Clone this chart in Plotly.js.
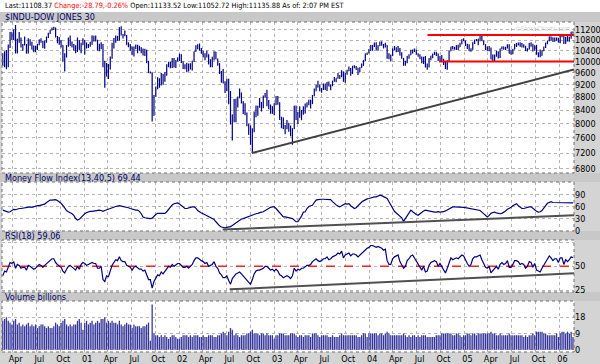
<!DOCTYPE html>
<html><head><meta charset="utf-8">
<script src="https://cdn.plot.ly/plotly-3.0.1.min.js"></script>
<style>html,body{margin:0;padding:0;background:#fff}#chart{width:600px;height:364px}</style>
</head><body><div id="chart"></div>
<script>
// weekly bars, first week (Wednesday) of the series
const weekStart = '2000-02-23';

const openP = [
10220,9860,10370,9930,10600,11110,10920,11110,10310,10840,10730,10580,10610,10630,10300,10790,10610,10450,10400,10450,10640,10810,10730,10510,10770,10910,11050,11190,11240,11260,10930,10850,10650,10600,10190,10230,10590,10820,10600,10630,10470,10370,10710,10430,10640,
10790,10660,10530,10590,10660,10860,10780,10800,10440,10470,10640,9820,9500,9880,9790,10130,10580,10810,10950,10820,11300,11010,10990,10980,10620,10600,10500,10250,10540,10580,10420,10510,10420,10240,10420,9950,9610,9610,8240,8850,9120,9340,9200,9550,9320,9610,9870,9960,9850,10050,9810,10040,
10140,10260,9990,9770,9840,9910,9740,9900,10020,10370,10570,10610,10430,10400,10270,10190,10260,9910,10010,10120,10350,10100,9930,9590,9470,9250,9240,9380,8680,8020,8260,8310,8750,8780,8870,8660,8430,8310,7990,7700,7530,7850,8320,8440,8520,8540,8580,8800,8900,8650,8430,8510,
8300,8600,8790,8590,8130,8050,7860,7910,8020,7890,7740,7860,8520,8150,8280,8200,8340,8310,8580,8600,8710,8600,8850,9060,9120,9200,9010,9070,9120,9190,9280,9150,9190,9320,9350,9420,9500,9470,9640,9310,9570,9670,9720,9580,9800,9810,9770,9630,9780,9860,10040,10280,
10310,10410,10460,10600,10570,10490,10590,10630,10620,10580,10600,10240,10190,10210,10470,10440,10450,10470,10230,10120,10010,9970,10190,10240,10410,10420,10370,10280,10210,10140,9960,10140,9820,9830,10110,10200,10260,10310,10280,10050,10190,10060,9930,9760,10030,10390,10540,10460,10520,10590,10540,10650,10830,
10780,10600,10560,10390,10430,10720,10800,10790,10840,10940,10770,10630,10440,10400,10460,10090,10160,10190,10350,10140,10470,10540,10460,10510,10620,10300,10300,10450,10640,10650,10640,10560,10600,10560,10400,10450,10680,10640,10420,10570,10290,10290,10220,10400,10530,10690,10770,10930,10880,10780,10880,10880,
10720,10960,10960,10670,10910,10790,10920,11120];

const highP = [
10300,10370,10420,10630,11120,11110,11230,11400,10850,11120,10900,10650,10940,10650,10870,10830,10740,10590,10580,10660,10820,10870,10780,10780,10940,11090,11200,11300,11330,11300,10960,10920,10800,10600,10300,10600,10900,10980,10750,10650,10600,10900,10800,10700,10870,
10800,10710,10650,10740,10990,10970,10980,10800,10660,10720,10650,10030,9950,9910,10180,10700,10880,10980,10960,11310,11350,11040,11180,11000,10720,10650,10560,10560,10630,10620,10580,10530,10480,10470,10430,10030,9650,9610,8870,9140,9450,9420,9600,9560,9620,9900,9990,9990,10130,10130,10060,10150,
10280,10270,10000,9900,9960,9930,9940,10030,10370,10600,10640,10670,10500,10400,10300,10400,10260,10080,10170,10380,10350,10100,9940,9670,9740,9320,9390,9400,9000,8270,8740,8750,8820,9080,8950,8670,8610,8330,7990,7950,7870,8360,8540,8530,8770,8650,8850,8930,9040,8710,8570,8520,
8610,8840,8840,8640,8200,8180,7960,8110,8020,7950,7870,8530,8530,8350,8520,8400,8520,8600,8640,8720,8710,8870,9080,9200,9330,9200,9090,9240,9240,9290,9310,9220,9330,9460,9420,9600,9530,9690,9650,9600,9710,9820,9770,9850,9870,9840,9780,9800,9930,10050,10290,10330,
10460,10610,10610,10710,10720,10600,10750,10760,10650,10700,10600,10300,10260,10480,10570,10530,10570,10500,10340,10130,10030,10200,10270,10430,10440,10480,10440,10300,10270,10180,10170,10200,9930,10120,10210,10290,10360,10360,10290,10200,10240,10100,10010,10030,10400,10550,10570,10540,10600,10620,10700,10830,10870,
10780,10660,10640,10490,10720,10810,10840,10850,10950,10980,10780,10640,10560,10570,10520,10260,10260,10400,10370,10480,10560,10550,10550,10640,10640,10430,10460,10650,10690,10710,10720,10690,10640,10570,10490,10690,10720,10660,10600,10620,10340,10440,10410,10560,10700,10780,10940,10940,10910,10900,10900,10880,
10980,11050,10970,10930,10960,10940,11130,11140];

const lowP = [
9860,9800,9730,9800,10500,10800,10800,10300,10300,10700,10520,10400,10600,10300,10300,10580,10440,10340,10340,10420,10600,10700,10500,10470,10700,10880,11040,11180,11200,10900,10680,10620,10520,10000,9650,10150,10550,10590,10520,10400,10300,10350,10430,10300,10600,
10260,10480,10500,10550,10620,10750,10750,10400,10380,10450,9800,9100,9480,9390,9720,10100,10480,10700,10780,10780,10980,10860,10950,10620,10530,10400,10250,10180,10450,10300,10400,10300,10220,10200,9950,9600,9580,8060,8230,8810,9050,9100,9180,9200,9300,9500,9800,9760,9770,9790,9770,10000,
10020,9950,9740,9730,9620,9650,9720,9680,9980,10360,10450,10400,10280,10150,10050,10150,9900,9800,9800,10040,10080,9850,9560,9270,9250,8930,8990,8580,7980,7530,8040,8040,8480,8780,8600,8280,8250,7930,7690,7420,7200,7760,8190,8230,8470,8360,8460,8780,8520,8430,8290,8300,
8250,8550,8560,8110,7870,7850,7700,7840,7770,7650,7420,7850,8110,7990,8170,8100,8260,8300,8480,8550,8450,8590,8830,8990,9110,8990,8940,9030,9030,9000,9150,9020,9150,9300,9280,9400,9390,9450,9310,9270,9540,9670,9500,9560,9760,9700,9530,9620,9780,9850,10010,10240,
10300,10400,10400,10540,10410,10400,10570,10580,10480,10520,10100,10080,10000,10200,10420,10340,10350,10220,10100,9850,9850,9940,10100,10240,10290,10350,10250,10170,10080,9940,9910,9790,9710,9790,10050,10120,10240,10200,10020,9990,10020,9880,9740,9710,9990,10380,10450,10440,10420,10420,10540,10640,10760,
10570,10460,10390,10360,10430,10650,10760,10600,10760,10770,10600,10420,10400,10380,10080,9990,10010,10180,10110,10130,10440,10430,10420,10480,10290,10250,10270,10450,10540,10590,10550,10520,10510,10390,10370,10440,10550,10370,10400,10250,10160,10160,10210,10390,10500,10640,10760,10780,10730,10740,10780,10710,
10680,10910,10650,10660,10750,10740,10850,11050];

const closeP = [
9860,10370,9930,10600,11110,10920,11110,10310,10840,10730,10580,10610,10630,10300,10790,10610,10450,10400,10450,10640,10810,10730,10510,10770,10910,11050,11190,11240,11260,10930,10850,10650,10600,10190,10230,10590,10820,10600,10630,10470,10370,10710,10430,10640,10790,
10660,10530,10590,10660,10860,10780,10800,10440,10470,10640,9820,9500,9880,9790,10130,10580,10810,10950,10820,11300,11010,10990,10980,10620,10600,10500,10250,10540,10580,10420,10510,10420,10240,10420,9950,9610,9610,8240,8850,9120,9340,9200,9550,9320,9610,9870,9960,9850,10050,9810,10040,10140,
10260,9990,9770,9840,9910,9740,9900,10020,10370,10570,10610,10430,10400,10270,10190,10260,9910,10010,10120,10350,10100,9930,9590,9470,9250,9240,9380,8680,8020,8260,8310,8750,8780,8870,8660,8430,8310,7990,7700,7530,7850,8320,8440,8520,8540,8580,8800,8900,8650,8430,8510,8300,
8600,8790,8590,8130,8050,7860,7910,8020,7890,7740,7860,8520,8150,8280,8200,8340,8310,8580,8600,8710,8600,8850,9060,9120,9200,9010,9070,9120,9190,9280,9150,9190,9320,9350,9420,9500,9470,9640,9310,9570,9670,9720,9580,9800,9810,9770,9630,9780,9860,10040,10280,10310,
10410,10460,10600,10570,10490,10590,10630,10620,10580,10600,10240,10190,10210,10470,10440,10450,10470,10230,10120,10010,9970,10190,10240,10410,10420,10370,10280,10210,10140,9960,10140,9820,9830,10110,10200,10260,10310,10280,10050,10190,10060,9930,9760,10030,10390,10540,10460,10520,10590,10540,10650,10830,10780,
10600,10560,10390,10430,10720,10800,10790,10840,10940,10770,10630,10440,10400,10460,10090,10160,10190,10350,10140,10470,10540,10460,10510,10620,10300,10300,10450,10640,10650,10640,10560,10600,10560,10400,10450,10680,10640,10420,10570,10290,10290,10220,10400,10530,10690,10770,10930,10880,10780,10880,10880,10720,
10960,10960,10670,10910,10790,10920,11120,11110];

const mfi = [
51,49,47,46,47,50,53,52,54,55, 55,56,57,58,58,59,58,60,61,62, 62,63,64,66,70,74,76,76,77,77, 75,72,68,63,55,50,47,45,42,38, 30,26,28,33,38,42,45,47,48,48,
49,50,51,51,50,48,50,52,53,55, 56,58,60,61,62,61,60,59,59,57, 55,53,52,51,51,48,42,34,32,31, 30,30,31,36,40,43,43,42,42,43,
47,53,59,64,67,69,69,66,62,58, 55,55,57,58,59,59,56,50,46,44, 42,40,38,36,34,32,28,22,16,12, 9,7,7,8,9,10,13,16,20,24,
27,29,30,32,34,36,38,38,40,42, 43,45,46,47,50,53,56,58,59,59, 55,50,45,38,34,34,33,32,31,30, 26,22,22,28,36,46,47,55,60,62,
63,70,76,77,78,78,78,78,78,78, 77,72,67,64,61,59,62,65,67,66, 67,62,58,55,57,62,66,71,74,77, 79,80,82,83,84,84,86,88,87,85,
83,80,72,64,55,48,44,40,38,32, 23,30,40,47,51,47,43,40,38,42, 46,49,51,50,48,47,46,46,46,47, 46,46,47,49,52,55,57,59,59,59,
59,59,59,58,57,56,55,54,53,52, 51,51,50,46,42,38,34,38,43,45, 46,44,43,42,43,45,49,53,55,58, 62,65,67,62,58,55,55,57,58,59,
59,55,51,48,46,47,50,55,62,68, 71,72,70,70,69,69,69,69,69,69, 70,70,70,69];

const rsi = [
40,45,44,50,54,53,55,48,52,51, 48,49,49,46,51,50,48,47,48,50, 52,51,49,51,53,55,57,58,58,54, 52,50,49,45,43,47,50,51,49,47, 46,50,47,52,54,53,51,52,53,54,
53,53,48,48,50,36,34,40,39,45, 51,54,57,56,60,56,55,55,51,50, 49,46,49,50,48,47,47,45,46,40, 36,36,27,34,38,41,40,44,42,45,
48,50,49,52,50,52,53,53,51,49, 49,50,48,50,52,56,59,59,57,56, 55,53,54,50,51,52,55,50,48,43, 41,38,38,40,35,31,37,40,42,43,
44,42,40,38,35,33,31,36,42,45, 46,46,47,48,50,50,48,46,47,45, 47,45,41,40,38,39,40,39,37,40, 48,45,47,46,48,48,50,51,51,52,
55,57,58,56,55,56,58,58,60,57, 58,60,61,62,64,63,66,59,62,63, 64,61,63,63,62,60,62,63,66,68, 69,70,72,72,71,70,71,70,69,67,
68,56,52,52,58,60,61,62,55,52, 48,50,56,58,61,62,59,55,53,49, 46,50,44,45,51,54,55,56,55,50, 53,50,47,43,48,55,59,57,58,59,
58,60,62,61,56,53,50,52,58,60, 60,61,62,57,53,49,48,50,43,45, 47,50,47,52,54,52,53,56,49,49, 52,56,56,55,52,53,52,48,50,55,
54,49,53,46,45,44,48,51,55,57, 61,59,56,58,58,54,59,59,52,57, 55,57,60,59];

const volume = [
16,17,18,16,15,14,16,17,14,15, 13,14,13,14,15,13,14,13,14,12, 13,14,14,13,12,13,12,12,13,15, 14,13,15,16,17,14,13,14,13,14, 14,16,17,15,11,15,16,14,15,16,
14,15,16,15,17,17,18,15,16,15, 16,15,15,14,16,14,13,14,15,14, 14,12,14,13,13,13,12,13,13,14, 15,5,25,9,8,8,7,8,7,8,
7,6,7,8,8,7,6,6,7,8, 8,8,7,8,7,8,8,8,7,7, 8,7,7,8,8,8,7,7,8,8, 9,10,9,8,10,12,11,8,9,8,
7,8,8,8,9,9,10,11,9,9, 9,8,9,9,8,9,8,8,8,6, 8,8,9,9,9,8,8,8,9,9, 9,8,7,8,8,7,8,8,8,7,
9,9,9,8,7,8,8,8,8,7, 7,8,7,7,7,8,9,8,8,8, 8,8,8,8,8,7,7,8,9,9, 7,9,9,9,9,9,8,9,9,8,
9,10,9,8,8,8,8,8,8,8, 9,8,7,8,7,8,8,7,8,7, 8,8,8,7,7,7,7,7,8,8, 8,9,9,9,9,9,9,8,8,9,
9,8,7,8,8,9,9,8,9,9, 8,9,9,9,9,9,9,9,10,9, 9,8,8,9,8,8,8,8,9,8, 8,8,8,8,8,8,7,8,7,8,
8,9,8,10,10,10,10,9,9,8, 8,8,8,8,9,7,9,10,10,9, 10,9,10,7];

const tickDates = ['2000-04-01','2000-07-01','2000-10-01','2001-01-01','2001-04-01','2001-07-01','2001-10-01','2002-01-01','2002-04-01','2002-07-01','2002-10-01','2003-01-01','2003-04-01','2003-07-01','2003-10-01','2004-01-01','2004-04-01','2004-07-01','2004-10-01','2005-01-01','2005-04-01','2005-07-01','2005-10-01','2006-01-01'];
const tickText = ['Apr','Jul','Oct','01','Apr','Jul','Oct','02','Apr','Jul','Oct','03','Apr','Jul','Oct','04','Apr','Jul','Oct','05','Apr','Jul','Oct','06'];
const priceTicks = [6800,7200,7600,8000,8400,8800,9200,9600,10000,10400,10800,11200];
const mfiTicks = [0,30,60,90];
const rsiTicks = [25,50,75];
const rsiTickText = ['25','50',''];
const volTicks = [0,9,18];

// drawn lines
const priceTrendX = ['2002-10-07','2006-02-26'];
const priceTrendY = [7200,9716];
const resistX = ['2004-08-12','2006-02-26'];
const resistY = [11000,11000];
const supportX = ['2004-09-26','2006-02-26'];
const supportY = [10000,10000];
const mfiTrendX = ['2002-06-17','2006-02-26'];
const mfiTrendY = [2.5,38];
const rsiTrendX = ['2002-07-14','2006-02-26'];
const rsiTrendY = [25.7,42.6];
const rsiMidX = ['2000-02-20','2006-02-26'];
const rsiMidY = [50,50];

const dates = closeP.map((_, i) => {
  const d = new Date(weekStart + 'T00:00:00Z');
  d.setUTCDate(d.getUTCDate() + 7 * i);
  return d.toISOString().slice(0, 10);
});

const navy = '#000080';
const traces = [
  {type:'ohlc', x:dates, open:openP, high:highP, low:lowP, close:closeP, xaxis:'x', yaxis:'y',
   increasing:{line:{color:navy, width:1.2}}, decreasing:{line:{color:navy, width:1.2}}, tickwidth:0.3, hoverinfo:'skip'},
  {type:'scatter', mode:'lines', x:priceTrendX, y:priceTrendY, xaxis:'x', yaxis:'y', line:{color:'#404040', width:2}},
  {type:'scatter', mode:'lines', x:resistX, y:resistY, xaxis:'x', yaxis:'y', line:{color:'#ff0000', width:2}},
  {type:'scatter', mode:'lines', x:supportX, y:supportY, xaxis:'x', yaxis:'y', line:{color:'#ff0000', width:2}},
  {type:'scatter', mode:'lines', x:dates, y:mfi, xaxis:'x', yaxis:'y2', line:{color:navy, width:1.2}},
  {type:'scatter', mode:'lines', x:mfiTrendX, y:mfiTrendY, xaxis:'x', yaxis:'y2', line:{color:'#505050', width:2}},
  {type:'scatter', mode:'lines', x:rsiMidX, y:rsiMidY, xaxis:'x', yaxis:'y3', line:{color:'#ff2020', width:1.5, dash:'dash'}},
  {type:'scatter', mode:'lines', x:dates, y:rsi, xaxis:'x', yaxis:'y3', line:{color:navy, width:1.2}},
  {type:'scatter', mode:'lines', x:rsiTrendX, y:rsiTrendY, xaxis:'x', yaxis:'y3', line:{color:'#505050', width:2}},
  {type:'bar', x:dates, y:volume, xaxis:'x', yaxis:'y4', marker:{color:'#34349a', line:{width:0}}}
];

const FONT = '"Liberation Sans Narrow", "Arial Narrow", "DejaVu Sans Condensed", "Liberation Sans", Arial, sans-serif';
const gridc = '#b4b4b4';
const yBase = {side:'right', showgrid:true, gridcolor:gridc, griddash:'dot', gridwidth:1, zeroline:false, showline:false, ticks:'', tickfont:{size:9, color:'#000'}, fixedrange:true, anchor:'x'};

// px helpers for paper coords (plot area from y=22 to y=352, x from 2 to 574)
const py = p => (352 - p) / 330;
const px = p => (p - 2) / 572;

const shapes = [
  {type:'rect', xref:'paper', yref:'paper', x0:px(0), x1:px(600), y0:py(12), y1:py(-2), fillcolor:'#ffffff', line:{width:0}, layer:'below'},
  {type:'rect', xref:'paper', yref:'paper', x0:px(0), x1:px(600), y0:py(22), y1:py(12), fillcolor:'#c8c8c8', line:{width:0}, layer:'below'},
  {type:'rect', xref:'paper', yref:'paper', x0:px(0), x1:px(600), y0:py(182), y1:py(173), fillcolor:'#c8c8c8', line:{width:0}, layer:'below'},
  {type:'rect', xref:'paper', yref:'paper', x0:px(0), x1:px(600), y0:py(240), y1:py(231), fillcolor:'#c8c8c8', line:{width:0}, layer:'below'},
  {type:'rect', xref:'paper', yref:'paper', x0:px(0), x1:px(600), y0:py(301), y1:py(292), fillcolor:'#c8c8c8', line:{width:0}, layer:'below'},
];
[[22,173],[182,231],[240,292],[301,352]].forEach(([a,b]) => shapes.push(
  {type:'rect', xref:'paper', yref:'paper', x0:0, x1:1, y0:py(b), y1:py(a), line:{color:'#707070', width:1, dash:'dot'}, fillcolor:'rgba(0,0,0,0)', layer:'above'}));

const ann = (text, ypx, color, size) => ({xref:'paper', yref:'paper', x:px(3), y:py(ypx), xanchor:'left', yanchor:'middle', text:text, showarrow:false, font:{size:size || 9, color:color || '#000066', family:FONT}});

const layout = {
  width:600, height:364,
  margin:{l:2, r:26, t:22, b:12, pad:0},
  paper_bgcolor:'#d4d4d4', plot_bgcolor:'#ffffff',
  showlegend:false, bargap:0.3,
  font:{family:FONT, size:9, color:'#000'},
  xaxis:{type:'date', range:['2000-02-20','2006-02-26'], domain:[0,1], anchor:'y4',
    tickmode:'array', tickvals:tickDates, ticktext:tickText, showgrid:true, gridcolor:gridc, griddash:'dot',
    ticks:'', showline:false, zeroline:false, rangeslider:{visible:false}, tickfont:{size:9, color:'#000'},
    ticklabelshift:3, fixedrange:true},
  yaxis:Object.assign({}, yBase, {domain:[py(173), py(22)], type:'log', range:[Math.log10(6702), Math.log10(11526)], tickmode:'array', tickvals:priceTicks, ticktext:priceTicks.map(String)}),
  yaxis2:Object.assign({}, yBase, {domain:[py(231), py(182)], range:[-1, 121], tickmode:'array', tickvals:mfiTicks}),
  yaxis3:Object.assign({}, yBase, {domain:[py(292), py(240)], range:[22.9, 77.8], tickmode:'array', tickvals:rsiTicks, ticktext:rsiTickText}),
  yaxis4:Object.assign({}, yBase, {domain:[py(352), py(301)], range:[-1.3, 27.0], tickmode:'array', tickvals:volTicks}),
  shapes:shapes,
  annotations:[
    ann('Last:11108.37 <span style="color:#ff0000">Change:-28.79,-0.26%</span> Open:11133.52 Low:11052.72 High:11135.88 As of: 2:07 PM EST', 6, '#000000', 7.3),
    ann('$INDU-DOW JONES 30', 17),
    ann('Money Flow Index(13,40,5) 69.44', 177.5),
    ann('RSI(18) 59.06', 235.5),
    ann('Volume billions', 296.5),
    {xref:'paper', yref:'paper', x:px(543), y:py(29), xanchor:'center', yanchor:'middle', text:'©StockCharts.com', showarrow:false, font:{size:6.5, color:'#d4d4d4', family:FONT}}
  ]
};

Plotly.newPlot('chart', traces, layout, {staticPlot:true, displayModeBar:false});
</script>
</body></html>
